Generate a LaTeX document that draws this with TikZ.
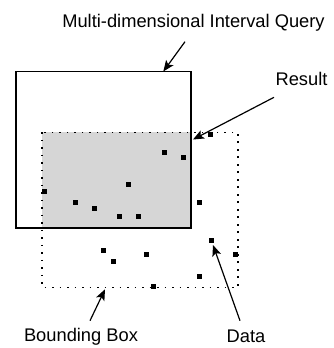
\documentclass[tikz,border=0pt]{standalone}
\usepackage{fontspec}
\setmainfont{Liberation Sans}
\usetikzlibrary{arrows.meta}
\definecolor{resgray}{HTML}{D6D6D6}
\tikzset{
  lbl/.style={font=\fontsize{18.3}{21}\selectfont, inner sep=0pt},
  pt/.style={fill=black, minimum size=5pt, inner sep=0pt, draw=none},
  arr/.style={line width=1.2pt, -{Stealth[length=11pt,width=9pt,inset=2.5pt]}},
  bbox/.style={line width=1.6pt, dash pattern=on 1.6pt off 5.9pt},
}
\begin{document}
\begin{tikzpicture}[x=1pt,y=-1pt]
\useasboundingbox (0,0) rectangle (334,348);
% result (gray intersection)
\fill[resgray] (42,132.3) rectangle (191,228);
% bounding box
\draw[bbox] (42,132.3) rectangle (237.7,287.3);
% query box
\draw[line width=1.1pt] (16,71.5) rectangle (191,228);
% data points
\foreach \x/\y [count=\i] in {210.7/134.3,164.7/152.3,183.3/157.7,128.3/184,44.3/191.3,75.3/202.3,199.3/202.3,94/208,119.3/216.7,138/216.7,211.3/240.3,103.3/250.7,113.7/261,146.7/254,235.7/254,199.3/276.3,153/286.3}
  \node[pt] (d\i) at (\x,\y) {};
% labels
\node[lbl] (lq) at (193.5,22.5) {Multi-dimensional Interval Query};
\node[lbl] (lr) at (301.5,79) {Result};
\node[lbl] (lb) at (81,336.5) {Bounding Box};
\node[lbl] (ld) at (246,336.5) {Data};
% arrow anchors
\coordinate (qs) at (185,41.7);
\coordinate (qe) at (163.3,71.5);
\coordinate (rs) at (274,97.3);
\coordinate (re) at (193,139.5);
\coordinate (bs) at (90,320.7);
\coordinate (be) at (105,289.3);
\coordinate (ds) at (240,320.7);
\coordinate (de) at (213,245);
\draw[arr] (qs) -- (qe);
\draw[arr] (rs) -- (re);
\draw[arr] (bs) -- (be);
\draw[arr] (ds) -- (de);
\end{tikzpicture}
\end{document}
